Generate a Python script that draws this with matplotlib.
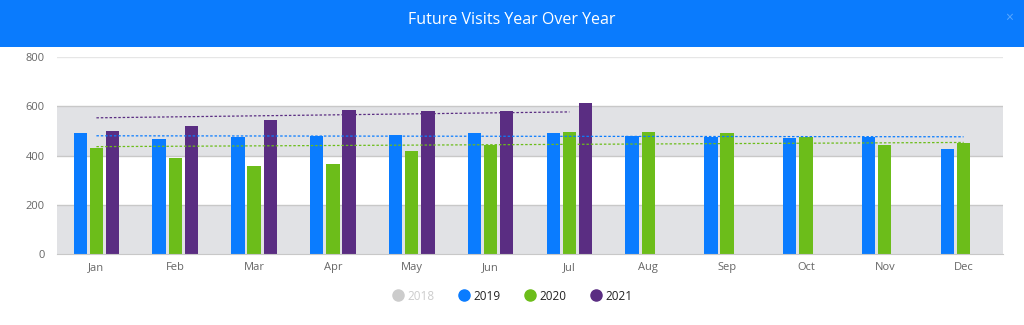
import numpy as np
import matplotlib
matplotlib.use('Agg')
import matplotlib.pyplot as plt
from matplotlib.lines import Line2D
from matplotlib.patches import Rectangle

plt.rcParams['font.family'] = ['Open Sans', 'DejaVu Sans']

months = ['Jan', 'Feb', 'Mar', 'Apr', 'May', 'Jun',
          'Jul', 'Aug', 'Sep', 'Oct', 'Nov', 'Dec']
v2019 = [490, 466, 475, 479, 484, 492, 492, 478, 476, 470, 476, 426]
v2020 = [429, 389, 356, 367, 419, 441, 495, 495, 492, 476, 443, 452]
v2021 = [499, 521, 544, 583, 579, 579, 613]
# dashed trend lines: value at first and last month of each series
trend2019 = [480, 476]
trend2020 = [436, 453]
trend2021 = [553, 577]

c2018 = '#cccccc'
c2019 = '#0a7cff'
c2020 = '#6cbd1a'
c2021 = '#5a2d82'

fig = plt.figure(figsize=(10.24, 3.25), dpi=100)
fig.patch.set_facecolor('white')

# title bar
fig.patches.append(Rectangle((0, 1 - 47 / 325), 1, 47 / 325, transform=fig.transFigure,
                             facecolor='#0a7bfd', edgecolor='none', zorder=0))
fig.text(0.5, 1 - 20 / 325, 'Future Visits Year Over Year', color='white',
         fontsize=11.5, ha='center', va='center')
fig.text(0.985, 1 - 18 / 325, '×', color='#5aa8ff', fontsize=10, ha='center', va='center')

ax = fig.add_axes([57 / 1024, 1 - 254 / 325, 946 / 1024, 197 / 325])
x = np.arange(len(months))
w = 0.17
d = 0.205

# alternating bands
for lo in [0, 400]:
    ax.axhspan(lo, lo + 200, color='#e1e2e5', zorder=0, lw=0)
for yv in [200, 400, 600]:
    ax.axhline(yv, color='#c8c8c8', lw=1, zorder=0.5)
ax.axhline(800, color='#e6e6e6', lw=1, zorder=0.5)

ax.bar(x - d, v2019, w, color=c2019, zorder=2)
ax.bar(x, v2020, w, color=c2020, zorder=2)
ax.bar(np.arange(len(v2021)) + d, v2021, w, color=c2021, zorder=2)

ax.plot([0, len(v2019) - 1], trend2019, ls=(0, (2, 1.5)), color=c2019, lw=0.9, zorder=3)
ax.plot([0, len(v2020) - 1], trend2020, ls=(0, (2, 1.5)), color=c2020, lw=0.9, zorder=3)
ax.plot([0, len(v2021) - 1], trend2021, ls=(0, (2, 1.5)), color=c2021, lw=0.9, zorder=3)

ax.set_xlim(-0.5, 11.5)
ax.set_ylim(0, 800)
ax.set_yticks([0, 200, 400, 600, 800])
ax.set_xticks(x)
ax.set_xticklabels(months)
ax.tick_params(axis='both', length=0, labelsize=8, labelcolor='#666666')
ax.tick_params(axis='y', pad=9)
ax.tick_params(axis='x', pad=6)
for s in ['top', 'right', 'left']:
    ax.spines[s].set_visible(False)
ax.spines['bottom'].set_color('#c8c8c8')
ax.set_facecolor('white')

handles = [Line2D([], [], marker='o', ls='none', ms=8, color=c) for c in [c2018, c2019, c2020, c2021]]
leg = fig.legend(handles, ['2018', '2019', '2020', '2021'], loc='center',
                 bbox_to_anchor=(0.5, 1 - 296 / 325), ncol=4, frameon=False,
                 fontsize=8.5, handletextpad=0.3, columnspacing=2.0, handlelength=1)
for t, c in zip(leg.get_texts(), ['#cccccc', '#222222', '#222222', '#222222']):
    t.set_color(c)

fig.savefig('out.png', dpi=100)
